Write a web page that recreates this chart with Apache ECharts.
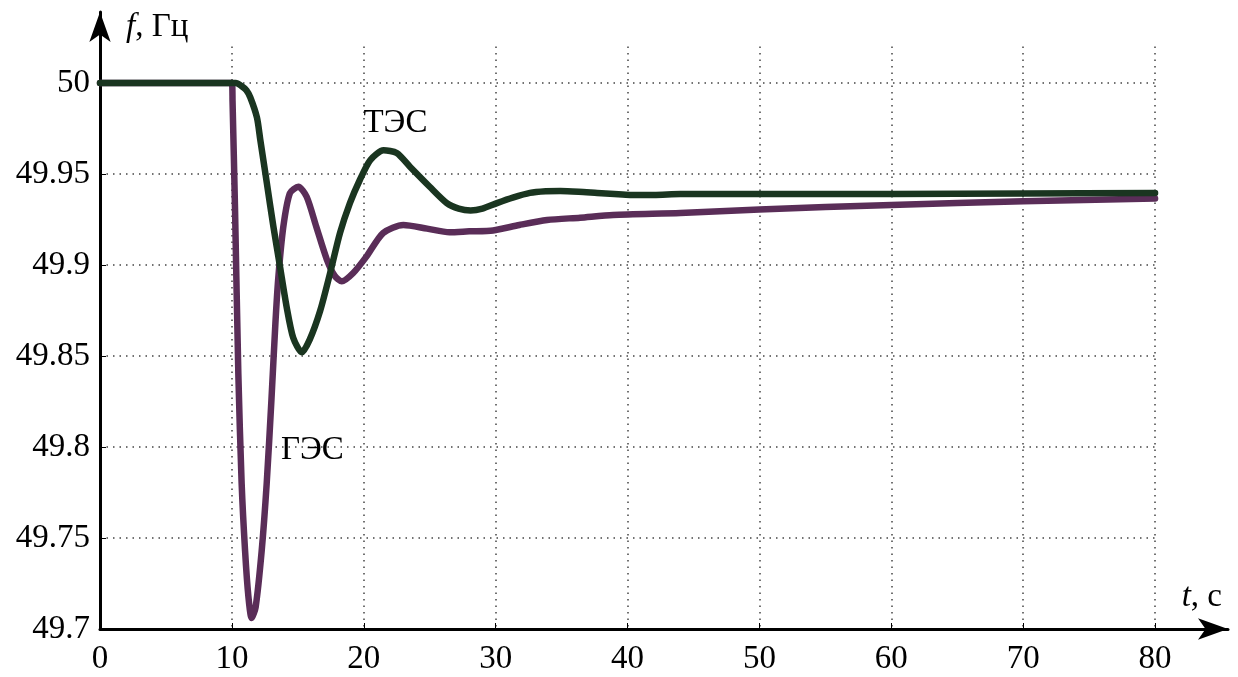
<!DOCTYPE html>
<html>
<head>
<meta charset="utf-8">
<script src="https://cdn.jsdelivr.net/npm/echarts@6/dist/echarts.min.js"></script>
<style>
html,body{margin:0;padding:0;background:#fff;}
#c{width:1238px;height:677px;}
</style>
</head>
<body>
<div id="c"></div>
<script>
// ---- data ----
const tesT = [0, 10, 10.3, 10.7, 11.1, 11.4, 11.9, 12.15, 12.65, 13.15, 13.65, 14.15, 14.65, 15.3, 15.9, 16.7, 17.45, 18.2, 18.95, 19.7, 20.5, 21.5, 22.5, 23.5, 25.0, 26.3, 27.2, 28.1, 29.0, 30.1, 31.3, 32.6, 33.8, 34.9, 36.3, 37.7, 39.0, 40.2, 42, 44, 50, 60, 70, 80];
const tesF = [50, 50, 50, 49.9985, 49.996, 49.992, 49.981, 49.969, 49.945, 49.921, 49.899, 49.877, 49.860, 49.852, 49.859, 49.875, 49.8956, 49.9176, 49.934, 49.9467, 49.9577, 49.963, 49.9615, 49.954, 49.943, 49.934, 49.931, 49.930, 49.931, 49.934, 49.937, 49.9396, 49.9405, 49.9407, 49.9403, 49.9396, 49.939, 49.9385, 49.9385, 49.939, 49.939, 49.939, 49.9393, 49.9396];
const gesT = [0, 10, 10.05, 10.24, 10.49, 10.74, 11.0, 11.25, 11.5, 11.8, 12.26, 12.64, 13.0, 13.3, 13.52, 13.9, 14.4, 15.04, 15.67, 16.4, 17.2, 17.8, 18.33, 19.2, 20.2, 21.47, 23.0, 24.8, 26.5, 28, 29.8, 31.8, 33.9, 36.4, 38.9, 44, 50, 60, 70, 80];
const gesF = [50, 50, 49.99, 49.930, 49.84, 49.78, 49.743, 49.718, 49.706, 49.712, 49.743, 49.78, 49.826, 49.868, 49.893, 49.921, 49.9395, 49.943, 49.9375, 49.921, 49.903, 49.894, 49.891, 49.8956, 49.9046, 49.9176, 49.922, 49.920, 49.918, 49.9185, 49.919, 49.922, 49.9247, 49.926, 49.9275, 49.9286, 49.9305, 49.933, 49.935, 49.9365];
const xTicks = [0, 10, 20, 30, 40, 50, 60, 70, 80];
const yTicks = [49.7, 49.75, 49.8, 49.85, 49.9, 49.95, 50];
const tesLabel = {name: 'ТЭС', t: 22.4, f: 49.978};
const gesLabel = {name: 'ГЭС', t: 16.1, f: 49.798};

const zip = (a, b) => a.map((v, i) => [v, b[i]]);
const FONT = '"Liberation Serif", "DejaVu Serif", serif';
const FS = 33;
const dotStyle = {type: [1.5, 5], width: 1.5, color: '#444'};

const chart = echarts.init(document.getElementById('c'), null, {renderer: 'canvas'});
chart.setOption({
  animation: false,
  backgroundColor: '#fff',
  grid: [
    {left: 100, right: 10, top: 12, bottom: 48},
    {left: 100, right: 83, top: 46.6, bottom: 48}
  ],
  xAxis: [
    {
      gridIndex: 0, type: 'value', min: 0, max: 85.53, interval: 10,
      axisLine: {show: true, symbol: ['none', 'arrow'], symbolSize: [16, 30], lineStyle: {color: '#000', width: 3}},
      axisTick: {show: true, inside: true, length: 6, customValues: xTicks.slice(1), lineStyle: {color: '#000', width: 1}},
      axisLabel: {customValues: xTicks, margin: 14, fontFamily: FONT, fontSize: FS, color: '#000'},
      splitLine: {show: false},
      name: '{i|t}, с', nameLocation: 'end', nameGap: -6,
      nameTextStyle: {align: 'right', verticalAlign: 'bottom', padding: [0, 0, 15, 0], fontFamily: FONT, fontSize: FS, color: '#000',
        rich: {i: {fontStyle: 'italic', fontFamily: FONT, fontSize: FS, color: '#000'}}}
    },
    {
      gridIndex: 1, type: 'value', min: 0, max: 80, interval: 10,
      axisLine: {show: false}, axisTick: {show: false}, axisLabel: {show: false},
      splitLine: {show: true, lineStyle: dotStyle}
    }
  ],
  yAxis: [
    {
      gridIndex: 0, type: 'value', min: 49.7, max: 50.039, interval: 0.05,
      axisLine: {show: true, symbol: ['none', 'arrow'], symbolSize: [16, 30], lineStyle: {color: '#000', width: 3}},
      axisTick: {show: true, inside: true, length: 6, customValues: yTicks.slice(1, 6), lineStyle: {color: '#000', width: 1}},
      axisLabel: {customValues: yTicks, margin: 10, fontFamily: FONT, fontSize: FS, color: '#000',
        formatter: v => String(+(+v).toFixed(2))},
      splitLine: {show: false},
      name: '{i|f}, Гц', nameLocation: 'end', nameGap: -15,
      nameTextStyle: {align: 'left', verticalAlign: 'middle', padding: [0, 0, 0, 26], fontFamily: FONT, fontSize: FS, color: '#000',
        rich: {i: {fontStyle: 'italic', fontFamily: FONT, fontSize: FS, color: '#000'}}}
    },
    {
      gridIndex: 1, type: 'value', min: 49.7, max: 50.02, interval: 0.05,
      axisLine: {show: false}, axisTick: {show: false}, axisLabel: {show: false},
      splitLine: {show: true, lineStyle: {type: [1.5, 5], width: 1.5,
        color: ['transparent', '#444', '#444', '#444', '#444', '#444', '#444', 'transparent']}}
    }
  ],
  series: [
    {
      name: 'ГЭС', type: 'line', xAxisIndex: 0, yAxisIndex: 0,
      data: zip(gesT, gesF), showSymbol: false, smooth: 0.25,
      lineStyle: {color: '#5a2d58', width: 6.5, join: 'round', cap: 'round'},
      markPoint: {
        symbol: 'circle', symbolSize: 0,
        label: {show: true, position: 'inside', formatter: '{b}', fontFamily: FONT, fontSize: FS, color: '#000'},
        data: [{name: gesLabel.name, coord: [gesLabel.t, gesLabel.f]}]
      }
    },
    {
      name: 'ТЭС', type: 'line', xAxisIndex: 0, yAxisIndex: 0,
      data: zip(tesT, tesF), showSymbol: false, smooth: 0.25,
      lineStyle: {color: '#1a3520', width: 6.5, join: 'round', cap: 'round'},
      markPoint: {
        symbol: 'circle', symbolSize: 0,
        label: {show: true, position: 'inside', formatter: '{b}', fontFamily: FONT, fontSize: FS, color: '#000'},
        data: [{name: tesLabel.name, coord: [tesLabel.t, tesLabel.f]}]
      }
    }
  ]
});
</script>
</body>
</html>
